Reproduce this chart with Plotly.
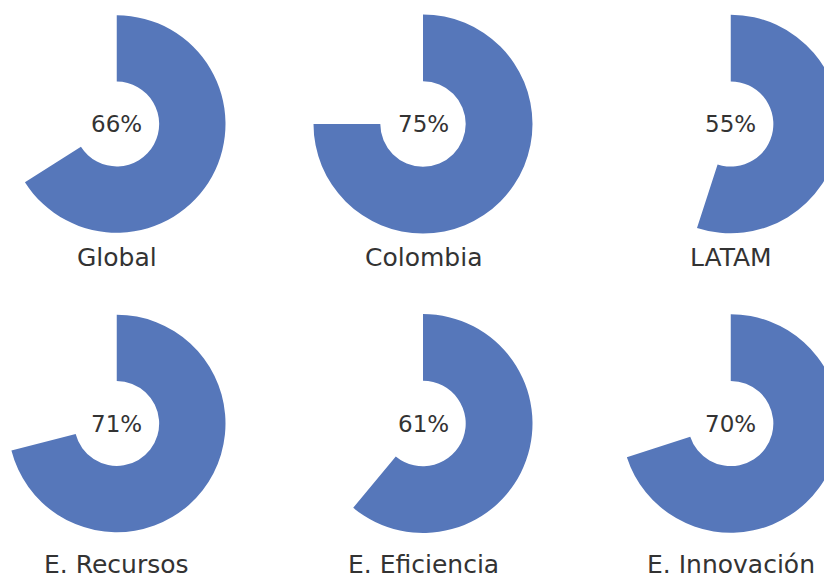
import plotly.graph_objects as go

# Data
categories = ["Global", "Colombia", "LATAM", "E. Recursos", "E. Eficiencia", "E. Innovación"]
values = [66, 75, 55, 71, 61, 70]

# Layout constants (figure pixels; page adds an 8px body margin)
W, H = 832, 574
OFF = 8
col_cx = [116 - OFF, 423 - OFF, 731 - OFF]
row_cy = [124 - OFF, 423.5 - OFF]
label_cy = [258 - OFF, 564 - OFF]
R = 109.5
HOLE = 0.39
BLUE = "#5677BA"
TXT = "#333333"
FONT = "DejaVu Sans, sans-serif"

fig = go.Figure()
for i, (cat, v) in enumerate(zip(categories, values)):
    r, c = divmod(i, 3)
    cx, cy = col_cx[c], row_cy[r]
    x0, x1 = max(0.0, cx - R), min(float(W), cx + R)
    half = min(x1 - x0, 2 * R) / 2
    xc = (x0 + x1) / 2
    fig.add_trace(go.Pie(
        values=[v, 100 - v],
        labels=["Sí", "No"],
        sort=False,
        direction="clockwise",
        rotation=0,
        hole=HOLE,
        marker=dict(colors=[BLUE, "rgba(0,0,0,0)"], line=dict(width=0)),
        textinfo="none",
        hoverinfo="skip",
        showlegend=False,
        domain=dict(x=[x0 / W, x1 / W],
                    y=[(H - cy - half) / H, (H - cy + half) / H]),
    ))
    fig.add_annotation(x=xc / W, y=(H - cy) / H, xref="paper", yref="paper",
                       text=f"{v}%", showarrow=False,
                       font=dict(family=FONT, size=23, color=TXT),
                       xanchor="center", yanchor="middle")
    fig.add_annotation(x=xc / W, y=(H - label_cy[r]) / H, xref="paper", yref="paper",
                       text=cat, showarrow=False,
                       font=dict(family=FONT, size=25, color=TXT),
                       xanchor="center", yanchor="middle")

fig.update_layout(width=W, height=H, margin=dict(l=0, r=0, t=0, b=0),
                  paper_bgcolor="white", plot_bgcolor="white")
fig.write_html("out.html")
